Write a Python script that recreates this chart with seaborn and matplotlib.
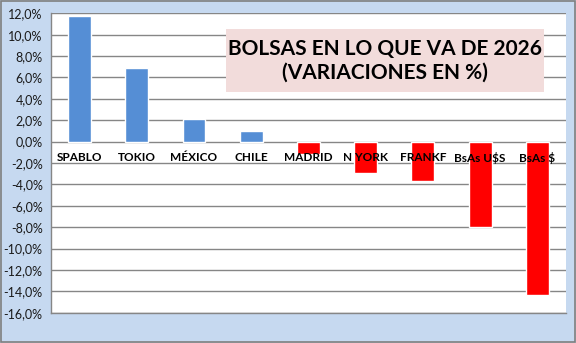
import matplotlib
matplotlib.use("Agg")
import matplotlib.pyplot as plt
import seaborn as sns
import pandas as pd
from matplotlib.ticker import FuncFormatter, MultipleLocator
from matplotlib.patches import Rectangle

categories = ["SPABLO", "TOKIO", "MÉXICO", "CHILE", "MADRID", "N YORK", "FRANKF", "BsAs U$S", "BsAs $"]
values = [11.75, 6.84, 2.16, 1.03, -1.12, -2.94, -3.72, -8.0, -14.3]
bar_colors = ["#558ED5"] * 4 + ["#FF0000"] * 5
title_lines = ["BOLSAS EN LO QUE VA DE 2026", "(VARIACIONES EN %)"]

sns.set_style("white")
plt.rcParams["font.family"] = ["Lato", "DejaVu Sans"]

fig = plt.figure(figsize=(5.76, 3.43), dpi=100)
fig.patch.set_facecolor("#C6D9F0")
fig.patches.append(Rectangle((0.001, 0.002), 0.997, 0.995, transform=fig.transFigure,
                             fill=False, edgecolor="#7F7F7F", linewidth=1.2))

ax = fig.add_axes([0.0885, 0.0883, 0.894, 0.873])
ax.set_facecolor("white")

df = pd.DataFrame({"cat": categories, "val": values})
sns.barplot(data=df, x="cat", y="val", hue="cat", palette=bar_colors, legend=False,
            width=0.4, saturation=1, ax=ax, zorder=3)

ax.set_ylim(-16, 12)
ax.set_xlim(-0.5, len(categories) - 0.5)
ax.yaxis.set_major_locator(MultipleLocator(2))
ax.yaxis.set_major_formatter(FuncFormatter(lambda v, p: f"{v:.1f}%".replace(".", ",")))
ax.grid(axis="y", color="#868686", linewidth=1.0, zorder=0)
ax.set_axisbelow(True)
ax.set_xlabel("")
ax.set_ylabel("")
ax.set_xticks([])
ax.tick_params(axis="y", length=0, pad=6, labelsize=9, labelcolor="#1a1a1a")

for s in ["top", "right"]:
    ax.spines[s].set_visible(False)
for s in ["left", "bottom"]:
    ax.spines[s].set_color("#868686")
    ax.spines[s].set_linewidth(1.0)

for i, c in enumerate(categories):
    ax.annotate(c, xy=(i, 0), xytext=(0, -11.5), textcoords="offset points",
                ha="center", va="center", fontsize=8.5, fontweight="bold", color="black",
                zorder=5)

ax.add_patch(Rectangle((0.340, 0.736), 0.617, 0.210, transform=ax.transAxes,
                       facecolor="#F2DCDB", edgecolor="none", zorder=6))
ax.text(0.6485, 0.841, "\n".join(title_lines), transform=ax.transAxes, ha="center", va="center",
        fontsize=15, fontweight="bold", color="black", linespacing=1.2, zorder=7)

fig.savefig("out.png", dpi=100, facecolor=fig.get_facecolor())
